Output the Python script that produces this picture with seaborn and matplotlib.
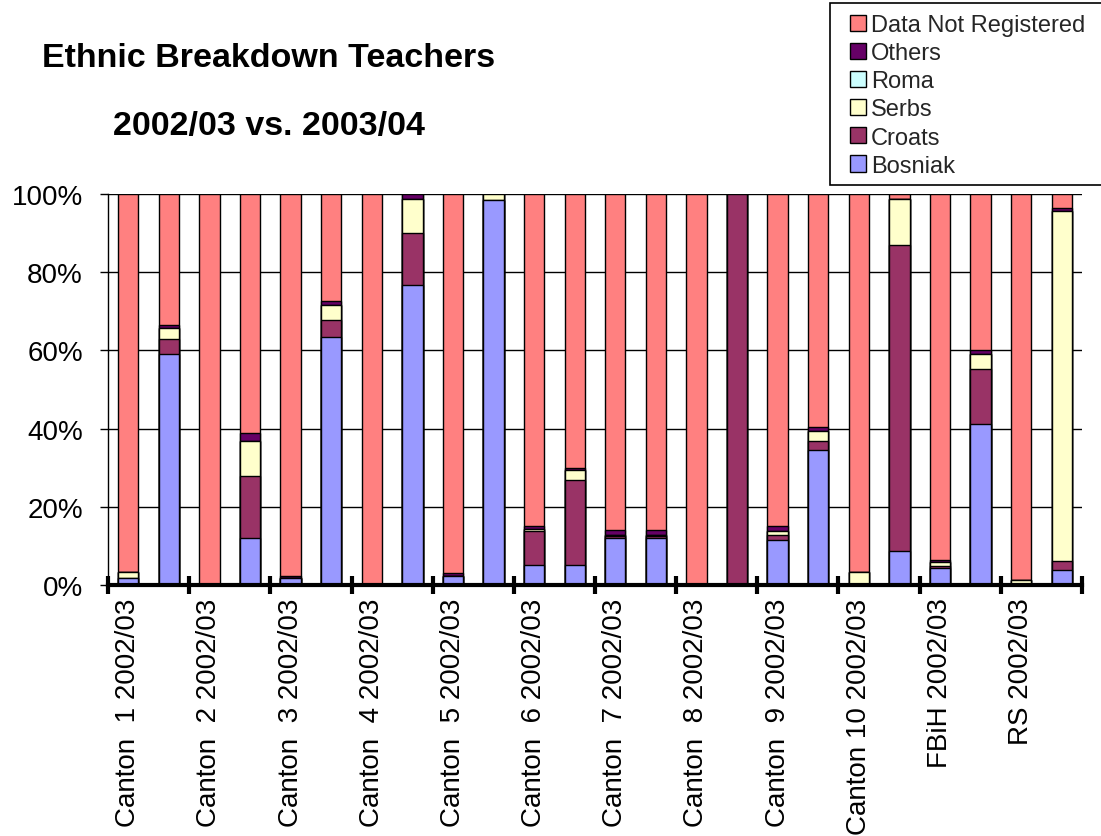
import matplotlib
matplotlib.use("Agg")
import matplotlib.pyplot as plt
import seaborn as sns
import numpy as np
import pandas as pd
from matplotlib.patches import Patch, Rectangle
from matplotlib.ticker import FixedLocator, FuncFormatter

# ---------------- data ----------------
categories = [
    "Canton  1 2002/03", "Canton  1 2003/04",
    "Canton  2 2002/03", "Canton  2 2003/04",
    "Canton  3 2002/03", "Canton  3 2003/04",
    "Canton  4 2002/03", "Canton  4 2003/04",
    "Canton  5 2002/03", "Canton  5 2003/04",
    "Canton  6 2002/03", "Canton  6 2003/04",
    "Canton  7 2002/03", "Canton  7 2003/04",
    "Canton  8 2002/03", "Canton  8 2003/04",
    "Canton  9 2002/03", "Canton  9 2003/04",
    "Canton 10 2002/03", "Canton 10 2003/04",
    "FBiH 2002/03", "FBiH 2003/04",
    "RS 2002/03", "RS 2003/04",
]
bosniak = [1.8, 59.1, 0, 12.0, 1.8, 63.3, 0, 76.6, 2.2, 98.5, 5.2, 5.2,
           12.0, 12.0, 0, 0, 11.5, 34.6, 0, 8.6, 4.3, 41.3, 0, 3.8]
croats = [0, 3.8, 0, 15.9, 0, 4.5, 0, 13.4, 0, 0, 8.7, 21.7,
          0.6, 0.6, 0, 100, 1.3, 2.3, 0, 78.4, 0.6, 13.9, 0, 2.4]
serbs = [1.4, 2.8, 0, 9.0, 0, 3.8, 0, 8.6, 0, 1.5, 0.3, 2.5,
         0.3, 0.3, 0, 0, 1.1, 2.6, 3.4, 11.7, 0.9, 3.9, 1.2, 89.5]
roma = [0, 0, 0, 0, 0, 0, 0, 0, 0, 0, 0, 0,
        0, 0, 0, 0, 0, 0, 0, 0, 0, 0, 0, 0]
others = [0, 0.9, 0, 2.1, 0.6, 1.1, 0, 1.4, 0.8, 0, 1.0, 0.6,
          1.2, 1.2, 0, 0, 1.1, 1.0, 0, 0, 0.6, 1.0, 0, 0.6]
not_registered = [96.8, 33.4, 100, 61.0, 97.6, 27.3, 100, 0, 97.0, 0, 84.8, 70.0,
                  85.9, 85.9, 100, 0, 85.0, 59.5, 96.6, 1.3, 93.6, 39.9, 98.8, 3.7]

series_names = ["Bosniak", "Croats", "Serbs", "Roma", "Others", "Data Not Registered"]
series_values = [bosniak, croats, serbs, roma, others, not_registered]
colors = {
    "Bosniak": "#9999FF",
    "Croats": "#993366",
    "Serbs": "#FFFFCC",
    "Roma": "#CCFFFF",
    "Others": "#660066",
    "Data Not Registered": "#FF8080",
}
y_ticks = [0, 20, 40, 60, 80, 100]
title_lines = ["Ethnic Breakdown Teachers", "2002/03 vs. 2003/04"]

# ---------------- style ----------------
sns.set_theme(style="white")
plt.rcParams["font.family"] = ["Liberation Sans", "DejaVu Sans"]

W, H = 1101, 837
fig = plt.figure(figsize=(W / 100, H / 100), dpi=100)
ax = fig.add_axes([108 / W, 1 - 586 / H, (1082 - 108) / W, (586 - 195) / H])

df = pd.DataFrame({"category": categories})
cum = np.zeros(len(categories))
cums = []
for name, vals in zip(series_names, series_values):
    cum = cum + np.asarray(vals, dtype=float)
    cums.append((name, cum.copy()))
# draw from top (largest cumulative) to bottom so lower layers paint over
for name, c in reversed(cums):
    d = df.copy()
    d["value"] = c
    sns.barplot(data=d, x="category", y="value", order=categories,
                color=colors[name], saturation=1, width=0.5,
                edgecolor="black", linewidth=1.0, errorbar=None, ax=ax,
                zorder=3)

ax.set_xlim(-0.5, len(categories) - 0.5)
ax.set_ylim(0, 100)
ax.set_xlabel("")
ax.set_ylabel("")

# y axis
ax.set_yticks(y_ticks)
ax.yaxis.set_major_formatter(FuncFormatter(lambda v, p: f"{int(v)}%"))
ax.yaxis.grid(True, color="black", linewidth=1.0, zorder=0)
ax.set_axisbelow(True)
ax.tick_params(axis="y", which="major", left=True, length=6, width=1.0,
               color="black", direction="out", pad=12, labelsize=20,
               labelcolor="black")

# x axis
major_pos = list(range(0, len(categories), 2))
ax.set_xticks(major_pos)
ax.set_xticklabels([categories[i] for i in major_pos], rotation=90,
                   ha="center", va="top", fontsize=20, color="black")
ax.xaxis.set_minor_locator(FixedLocator(np.arange(-0.5, len(categories), 2)))
ax.tick_params(axis="x", which="major", bottom=True, length=0, pad=9)
ax.tick_params(axis="x", which="minor", bottom=True, length=13, width=3,
               color="black", direction="inout")

for s in ["top", "right"]:
    ax.spines[s].set_visible(False)
ax.spines["left"].set_color("black")
ax.spines["left"].set_linewidth(1.0)
ax.spines["bottom"].set_color("black")
ax.spines["bottom"].set_linewidth(3.0)
ax.spines["bottom"].set_zorder(5)

# title
tfam = ["Liberation Sans", "DejaVu Sans"]
fig.text(269 / W, 1 - 67 / H, title_lines[0], ha="center", va="baseline",
         fontsize=24.5, fontweight="bold", family=tfam, color="black")
fig.text(269 / W, 1 - 135 / H, title_lines[1], ha="center", va="baseline",
         fontsize=24.5, fontweight="bold", family=tfam, color="black")

# legend box (drawn separately so padding matches the original)
fig.patches.append(Rectangle((830 / W, 1 - 186 / H), (1120 - 830) / W,
                             (186 - 4) / H, transform=fig.transFigure,
                             facecolor="white", edgecolor="black",
                             linewidth=1.2, zorder=1))
handles = [Patch(facecolor=colors[n], edgecolor="black", linewidth=1.0, label=n)
           for n in reversed(series_names)]
leg = fig.legend(handles=handles, loc="upper left",
                 bbox_to_anchor=(850 / W, 1 - 15 / H), fontsize=17,
                 frameon=False, handlelength=0.68, handleheight=0.68,
                 handletextpad=0.2, labelspacing=0.26, borderpad=0,
                 borderaxespad=0)
leg.set_zorder(2)

fig.savefig("out.png", dpi=100)
